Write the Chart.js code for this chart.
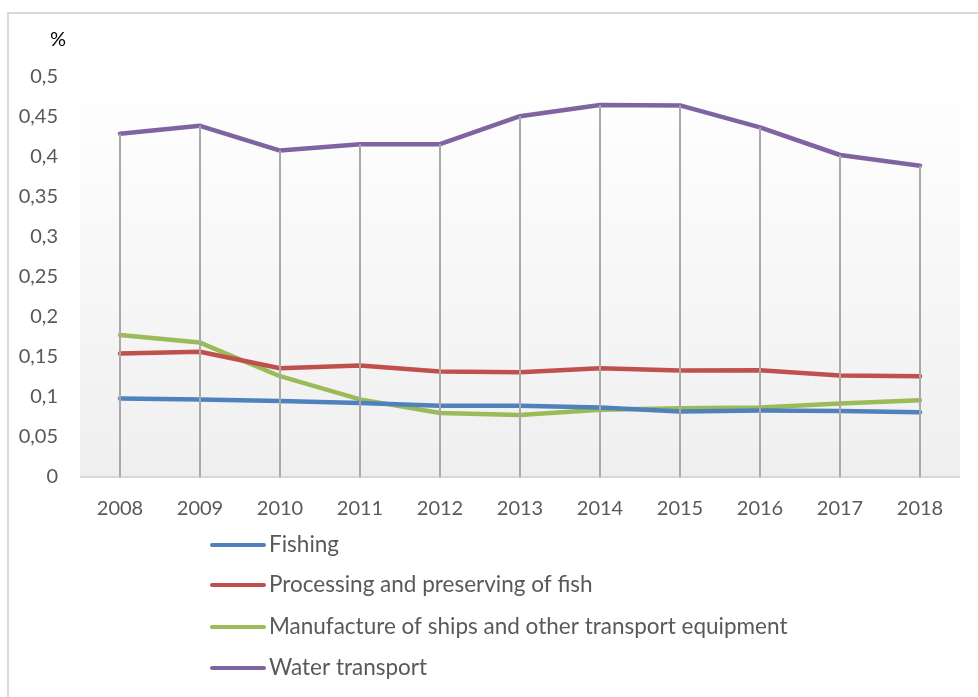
<!DOCTYPE html>
<html>
<head>
<meta charset="utf-8">
<script src="https://cdn.jsdelivr.net/npm/chart.js@4/dist/chart.umd.min.js"></script>
<style>
  html, body { margin: 0; padding: 0; background: #ffffff; overflow: hidden; }
  #wrap { position: relative; width: 978px; height: 697px; }
  #frame { position: absolute; left: 7px; top: 12px; width: 1000px; height: 800px;
           border: 2px solid #d9d9d9; box-sizing: border-box; pointer-events: none; }
  canvas { position: absolute; left: 0; top: 0; }
</style>
</head>
<body>
<div id="wrap">
  <canvas id="chart" width="978" height="697"></canvas>
  <div id="frame"></div>
</div>
<script>
// Share of employment by maritime activity, 2008–2018 (%)
const years = ['2008', '2009', '2010', '2011', '2012', '2013', '2014', '2015', '2016', '2017', '2018'];

const fishing      = [0.098, 0.097, 0.095, 0.0925, 0.089, 0.089, 0.087, 0.082, 0.083, 0.0825, 0.081];
const fishProcess  = [0.1545, 0.1565, 0.136, 0.1395, 0.132, 0.131, 0.136, 0.133, 0.1335, 0.127, 0.126];
const shipbuilding = [0.1775, 0.168, 0.126, 0.097, 0.080, 0.0775, 0.084, 0.086, 0.087, 0.092, 0.096];
const waterTransp  = [0.429, 0.439, 0.408, 0.416, 0.416, 0.451, 0.465, 0.4645, 0.437, 0.4025, 0.389];

const seriesNames = [
  'Fishing',
  'Processing and preserving of fish',
  'Manufacture of ships and other transport equipment',
  'Water transport'
];

const yTicks = [0, 0.05, 0.1, 0.15, 0.2, 0.25, 0.3, 0.35, 0.4, 0.45, 0.5];

const FONT = 'Lato, "Liberation Sans", sans-serif';
const TEXT = '#595959';

// Soft vertical gradient behind the plot area
const plotBackground = {
  id: 'plotBackground',
  beforeDatasetsDraw(chart) {
    const { ctx, chartArea: a } = chart;
    const g = ctx.createLinearGradient(0, a.top, 0, a.bottom);
    g.addColorStop(0, '#ffffff');
    g.addColorStop(1, '#efefef');
    ctx.save();
    ctx.fillStyle = g;
    ctx.fillRect(a.left, a.top, a.right - a.left, a.bottom - a.top);
    // category axis line
    ctx.strokeStyle = '#d9d9d9';
    ctx.lineWidth = 2;
    ctx.beginPath();
    ctx.moveTo(a.left, a.bottom);
    ctx.lineTo(a.right, a.bottom);
    ctx.stroke();
    ctx.restore();
  }
};

// Drop lines from the highest point of each year down to the axis
const dropLines = {
  id: 'dropLines',
  afterDatasetsDraw(chart) {
    const { ctx, scales: { x, y } } = chart;
    const ds = chart.data.datasets;
    ctx.save();
    ctx.strokeStyle = '#a9a9a9';
    ctx.lineWidth = 2;
    chart.data.labels.forEach((lab, i) => {
      const top = Math.max(...ds.map(d => d.data[i]));
      const px = Math.round(x.getPixelForValue(i));
      ctx.beginPath();
      ctx.moveTo(px, y.getPixelForValue(top));
      ctx.lineTo(px, y.getPixelForValue(0));
      ctx.stroke();
    });
    ctx.restore();
  }
};

// Unit label above the value axis and a stacked legend below the chart
const extras = {
  id: 'extras',
  afterDraw(chart) {
    const { ctx, chartArea: a } = chart;
    ctx.save();
    ctx.font = '20px ' + FONT;
    ctx.fillStyle = '#000000';
    ctx.textAlign = 'right';
    ctx.textBaseline = 'middle';
    ctx.fillText('%', a.left - 14, 40);

    const rowY = [545, 585, 627, 668];
    ctx.font = '22.5px ' + FONT;
    ctx.textAlign = 'left';
    ctx.fillStyle = TEXT;
    chart.data.datasets.forEach((d, i) => {
      const yy = rowY[i];
      ctx.strokeStyle = d.borderColor;
      ctx.lineWidth = 4;
      ctx.lineCap = 'round';
      ctx.beginPath();
      ctx.moveTo(212, yy);
      ctx.lineTo(264, yy);
      ctx.stroke();
      ctx.fillText(d.label, 269, yy);
    });
    ctx.restore();
  }
};

function line(label, data, color) {
  return {
    label, data,
    borderColor: color,
    backgroundColor: color,
    borderWidth: 4.5,
    borderCapStyle: 'round',
    borderJoinStyle: 'round',
    pointRadius: 0,
    pointHoverRadius: 0,
    tension: 0,
    fill: false
  };
}

new Chart(document.getElementById('chart'), {
  type: 'line',
  data: {
    labels: years,
    datasets: [
      line(seriesNames[0], fishing, '#4f81bd'),
      line(seriesNames[1], fishProcess, '#c0504d'),
      line(seriesNames[2], shipbuilding, '#9bbb59'),
      line(seriesNames[3], waterTransp, '#8064a2')
    ]
  },
  options: {
    responsive: false,
    animation: false,
    events: [],
    layout: { padding: { left: 0, right: 18, top: 77, bottom: 180 } },
    plugins: { legend: { display: false }, tooltip: { enabled: false } },
    scales: {
      x: {
        offset: true,
        grid: { display: false, drawTicks: false },
        border: { display: false },
        ticks: { color: TEXT, font: { family: FONT, size: 20 }, padding: 20, maxRotation: 0 },
        afterFit(s) { s.height = 40; }
      },
      y: {
        min: 0,
        max: 0.5,
        afterBuildTicks(s) { s.ticks = yTicks.map(v => ({ value: v })); },
        grid: { display: false, drawTicks: false },
        border: { display: false },
        ticks: {
          color: TEXT,
          font: { family: FONT, size: 20 },
          padding: 22,
          callback: v => String(v).replace('.', ',')
        },
        afterFit(s) { s.width = 80; }
      }
    }
  },
  plugins: [plotBackground, dropLines, extras]
});
</script>
</body>
</html>
